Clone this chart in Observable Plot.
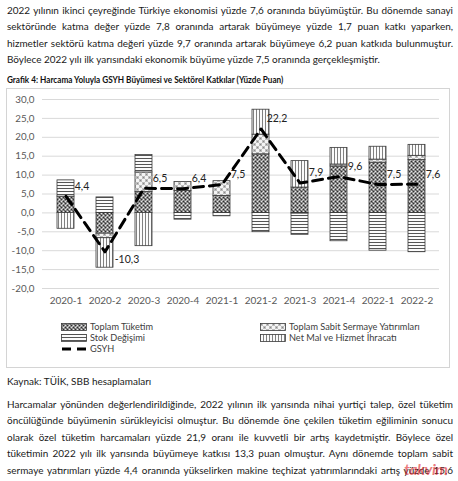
<!DOCTYPE html>
<html><head><meta charset="utf-8">
<script src="https://cdn.jsdelivr.net/npm/d3@7"></script>
<script src="https://cdn.jsdelivr.net/npm/@observablehq/plot@0.6"></script>
<style>
html,body{margin:0;padding:0;background:#fff;}
#page{position:relative;width:458px;height:481px;overflow:hidden;font-family:Lato,sans-serif;color:#1a1a1a;}
.blk{position:absolute;left:7px;width:446px;}
.ln{height:16.4px;line-height:16.4px;text-align:justify;text-align-last:justify;white-space:nowrap;}
.ln.last{text-align-last:left;}
#title{position:absolute;left:7px;top:72px;font-weight:bold;white-space:nowrap;line-height:16px;transform-origin:0 50%;color:#111;}
#box{position:absolute;left:6px;top:88px;width:442px;height:278px;border:1px solid #d4d4d4;}
#chart{position:absolute;left:0;top:0;}
#legend{position:absolute;left:0;top:232px;font-size:9.2px;color:#404040;}
.li{position:absolute;white-space:nowrap;height:11px;line-height:11px;display:flex;align-items:center;}
.li svg{margin-right:3px;}
#src{position:absolute;left:7px;top:373px;white-space:nowrap;line-height:16px;}
#wm{position:absolute;left:404px;top:459px;font:bold italic 16px Lato,sans-serif;color:rgba(220,30,40,0.6);letter-spacing:-0.5px;}
</style></head>
<body>
<div id="page">
  <div class="blk body" id="p1" style="top:2px"></div>
  <div id="title"></div>
  <div id="box"><div id="chart"></div><div id="legend"></div></div>
  <div id="src"></div>
  <div class="blk body" id="p2" style="top:396px"></div>
  <div id="wm">takvim</div>
</div>
<script>
// ---- data ----
const quarters = ["2020-1","2020-2","2020-3","2020-4","2021-1","2021-2","2021-3","2021-4","2022-1","2022-2"];
const seriesNames = ["Toplam Tüketim","Toplam Sabit Sermaye Yatırımları","Stok Değişimi","Net Mal ve Hizmet İhracatı"];
const toplamTuketim = [4.3, -5.5, 5.5, 5.8, 4.5, 15.5, 6.7, 12.3, 13.3, 14.0];
const sabitSermaye  = [0.0, -1.2, 5.2, 2.4, 3.9, 5.2, -0.2, 0.5, 0.8, 1.1];
const stokDegisimi  = [4.3, 4.1, 4.6, -1.8, -0.9, -5.1, -5.6, -7.5, -10.0, -10.4];
const netIhracat    = [-4.2, -7.8, -8.8, 0.0, 0.0, 6.6, 7.0, 4.4, 3.4, 2.9];
const gsyh          = [4.4, -10.3, 6.5, 6.4, 7.5, 22.2, 7.9, 9.6, 7.5, 7.6];
const yTicks = [-20, -15, -10, -5, 0, 5, 10, 15, 20, 25, 30];
const lineName = "GSYH";

const para1 = [
 "2022 yılının ikinci çeyreğinde Türkiye ekonomisi yüzde 7,6 oranında büyümüştür. Bu dönemde sanayi",
 "sektöründe katma değer yüzde 7,8 oranında artarak büyümeye yüzde 1,7 puan katkı yaparken,",
 "hizmetler sektörü katma değeri yüzde 9,7 oranında artarak büyümeye 6,2 puan katkıda bulunmuştur.",
 "Böylece 2022 yılı ilk yarısındaki ekonomik büyüme yüzde 7,5 oranında gerçekleşmiştir."
];
const titleText = "Grafik 4: Harcama Yoluyla GSYH Büyümesi ve Sektörel Katkılar (Yüzde Puan)";
const sourceText = "Kaynak: TÜİK, SBB hesaplamaları";
const para2 = [
 "Harcamalar yönünden değerlendirildiğinde, 2022 yılının ilk yarısında nihai yurtiçi talep, özel tüketim",
 "öncülüğünde büyümenin sürükleyicisi olmuştur. Bu dönemde öne çekilen tüketim eğiliminin sonucu",
 "olarak özel tüketim harcamaları yüzde 21,9 oranı ile kuvvetli bir artış kaydetmiştir. Böylece özel",
 "tüketimin 2022 yılı ilk yarısında büyümeye katkısı 13,3 puan olmuştur.  Aynı dönemde toplam sabit",
 "sermaye yatırımları yüzde 4,4 oranında yükselirken makine teçhizat yatırımlarındaki artış yüzde 15,6"
];

// ---- text layout ----
function measure(text, font){
  const c = measure.c || (measure.c = document.createElement("canvas").getContext("2d"));
  c.font = font; return c.measureText(text).width;
}
const bodyFs = 100 * 374 / measure(para1[3], "100px Lato");
function fillPara(id, lines, lastLeft){
  const el = document.getElementById(id);
  el.style.fontSize = bodyFs + "px";
  lines.forEach((t,i)=>{
    const d = document.createElement("div");
    d.className = "ln" + (lastLeft && i===lines.length-1 ? " last" : "");
    d.textContent = t; el.appendChild(d);
  });
}
fillPara("p1", para1, true);
fillPara("p2", para2, false);
const tEl = document.getElementById("title");
tEl.textContent = titleText;
const titleFs = bodyFs * 0.92;
tEl.style.fontSize = titleFs + "px";
tEl.style.transform = `scaleX(${Math.min(1, 277 / measure(titleText, `bold ${titleFs}px Lato`))})`;
const sEl = document.getElementById("src");
sEl.textContent = sourceText;
sEl.style.fontSize = bodyFs + "px";

// ---- chart ----
const fmt = v => v.toFixed(1).replace(".", ",");
const patterns = ["url(#pTuk)","url(#pSab)","url(#pStok)","url(#pIhr)"];
const seriesValues = [toplamTuketim, sabitSermaye, stokDegisimi, netIhracat];
const table = [];
seriesNames.forEach((s, si) => quarters.forEach((q, qi) => table.push({q, s, v: seriesValues[si][qi]})));
const lineData = quarters.map((q, i) => ({q, v: gsyh[i]}));

const plot = Plot.plot({
  width: 442, height: 222,
  marginLeft: 35, marginRight: 10, marginTop: 10, marginBottom: 23,
  style: {fontFamily: "Lato, sans-serif", fontSize: "9.5px", color: "#595959", background: "transparent"},
  x: {domain: quarters, paddingInner: 0.57, paddingOuter: 0.285, label: null},
  y: {domain: [-20, 30], label: null},
  color: {domain: seriesNames, range: patterns},
  marks: [
    Plot.gridY(yTicks, {stroke: "#d9d9d9", strokeOpacity: 1, strokeWidth: 1}),
    Plot.axisY(yTicks, {tickSize: 0, tickPadding: 8, tickFormat: fmt, fill: "#595959", label: null, fontSize: 9.8}),
    Plot.axisX({tickSize: 0, tickPadding: 8, fill: "#595959", label: null, fontSize: 10}),
    Plot.barY(table, Plot.stackY({x: "q", y: "v", fill: "s", stroke: "#3a3a3a", strokeWidth: 0.8})),
    Plot.lineY(lineData, {x: "q", y: "v", stroke: "#000", strokeWidth: 3, strokeDasharray: "10,6"}),
    Plot.text(lineData, {filter: d => d.v >= 0, x: "q", y: "v", text: d => fmt(d.v), dx: 16, dy: -10, fill: "#222", fontSize: 10.5}),
    Plot.text(lineData, {filter: d => d.v < 0, x: "q", y: "v", text: d => fmt(d.v), dx: 22, dy: 8, fill: "#222", fontSize: 10.5})
  ]
});

const defs = `
<defs>
 <pattern id="pTuk" patternUnits="userSpaceOnUse" width="4" height="4">
  <rect width="4" height="4" fill="#8a8a8a"/>
  <rect x="0" y="0" width="1" height="1" fill="#2e2e2e"/>
  <rect x="2" y="2" width="1" height="1" fill="#2e2e2e"/>
  <rect x="2" y="0" width="1" height="1" fill="#e6e6e6"/>
  <rect x="0" y="2" width="1" height="1" fill="#e6e6e6"/>
  <rect x="1" y="1" width="1" height="1" fill="#606060"/>
  <rect x="3" y="3" width="1" height="1" fill="#bcbcbc"/>
 </pattern>
 <pattern id="pSab" patternUnits="userSpaceOnUse" width="6" height="6">
  <rect width="6" height="6" fill="#f4f4f4"/>
  <rect x="0" y="0" width="3" height="3" fill="#bdbdbd"/>
  <rect x="3" y="3" width="3" height="3" fill="#bdbdbd"/>
  <rect x="1" y="1" width="1" height="1" fill="#8a8a8a"/>
  <rect x="4" y="4" width="1" height="1" fill="#8a8a8a"/>
 </pattern>
 <pattern id="pStok" patternUnits="userSpaceOnUse" width="4" height="3">
  <rect width="4" height="3" fill="#fbfbfb"/>
  <rect y="0" width="4" height="1" fill="#555"/>
 </pattern>
 <pattern id="pIhr" patternUnits="userSpaceOnUse" width="3" height="4">
  <rect width="3" height="4" fill="#fbfbfb"/>
  <rect x="0" width="1" height="4" fill="#808080"/>
 </pattern>
</defs>`;
plot.insertAdjacentHTML("afterbegin", defs);
document.getElementById("chart").appendChild(plot);

// ---- legend ----
const legend = document.getElementById("legend");
const items = [
  {name: seriesNames[0], fill: patterns[0], left: 54, top: 0},
  {name: seriesNames[1], fill: patterns[1], left: 253, top: 0},
  {name: seriesNames[2], fill: patterns[2], left: 54, top: 11},
  {name: seriesNames[3], fill: patterns[3], left: 253, top: 11},
  {name: lineName, line: true, left: 54, top: 22}
];
items.forEach(it => {
  const d = document.createElement("div");
  d.className = "li";
  d.style.left = it.left + "px"; d.style.top = it.top + "px";
  const sw = it.line
    ? `<svg width="26" height="8"><line x1="1" x2="25" y1="4" y2="4" stroke="#000" stroke-width="3" stroke-dasharray="9,6"/></svg>`
    : `<svg width="26" height="8"><rect x="0.5" y="0.5" width="25" height="7" fill="${it.fill}" stroke="#3a3a3a" stroke-width="0.8"/></svg>`;
  d.innerHTML = sw + `<span></span>`;
  d.querySelector("span").textContent = it.name;
  legend.appendChild(d);
});
</script>
</body></html>
